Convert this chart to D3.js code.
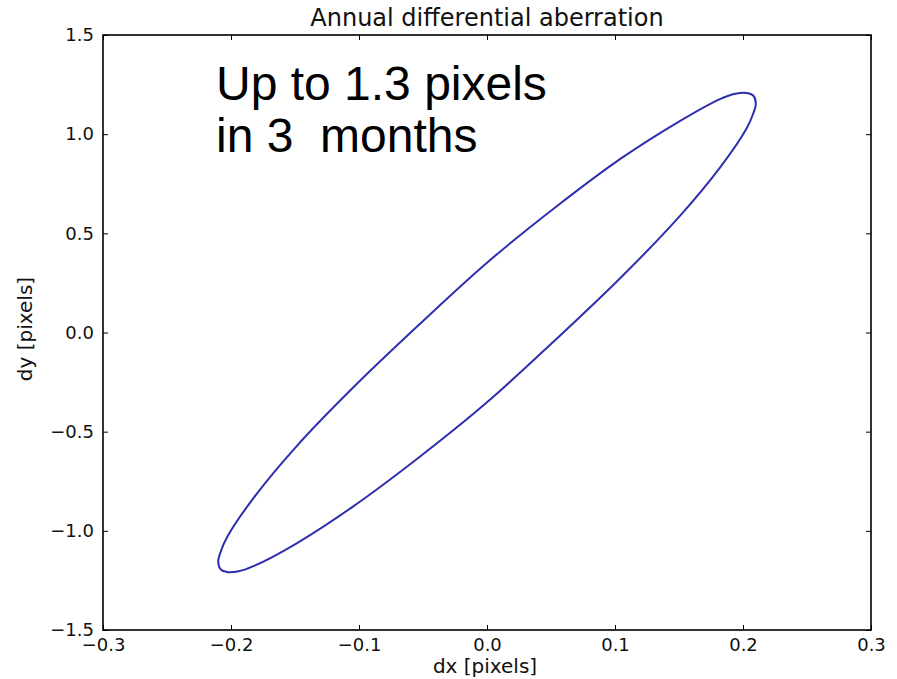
<!DOCTYPE html>
<html><head><meta charset="utf-8">
<script src="https://cdn.jsdelivr.net/npm/d3@7"></script>
<style>body{margin:0;background:#fff}svg{display:block}</style>
</head><body>
<svg id="c" width="897" height="679"></svg>
<script>
const title = "Annual differential aberration";
const xLabel = "dx [pixels]";
const yLabel = "dy [pixels]";
const annotation = ["Up to 1.3 pixels", "in 3  months"];
const xTicks = [-0.3, -0.2, -0.1, 0.0, 0.1, 0.2, 0.3];
const yTicks = [-1.5, -1.0, -0.5, 0.0, 0.5, 1.0, 1.5];
// Ellipse (dx, dy), going round the curve
const dx = [0.210, 0.208, 0.203, 0.194, 0.182, 0.149, 0.105, 0.054, 0.000, -0.054, -0.105, -0.149, -0.182, -0.203, -0.208, -0.210, -0.208, -0.203, -0.194, -0.182, -0.149, -0.105, -0.054, 0.000, 0.054, 0.105, 0.149, 0.182, 0.203, 0.208];
const dy = [1.155, 1.195, 1.208, 1.204, 1.177, 1.060, 0.879, 0.634, 0.352, 0.034, -0.280, -0.575, -0.831, -1.031, -1.104, -1.155, -1.195, -1.208, -1.204, -1.177, -1.064, -0.879, -0.634, -0.352, -0.034, 0.280, 0.575, 0.831, 1.031, 1.104];

const svg = d3.select("#c");
const L = 103, R = 871, T = 35, B = 630;
const x = d3.scaleLinear().domain([-0.3, 0.3]).range([L, R]);
const y = d3.scaleLinear().domain([-1.5, 1.5]).range([B, T]);
const font = "'DejaVu Sans', sans-serif";

const pts = dx.map((v, i) => [v, dy[i]]);
svg.append("path").datum(pts)
  .attr("fill", "none").attr("stroke", "#2e2eb0").attr("stroke-width", 2)
  .attr("d", d3.line().x(d => x(d[0])).y(d => y(d[1])).curve(d3.curveCatmullRomClosed.alpha(0.5)));

function fmt(v){ return v.toFixed(1).replace("-", "\u2212"); }

const xb = svg.append("g").attr("transform", `translate(0,${B})`)
  .call(d3.axisBottom(x).tickValues(xTicks).tickFormat(fmt).tickSizeInner(-5).tickSizeOuter(0).tickPadding(8));
const xt = svg.append("g").attr("transform", `translate(0,${T})`)
  .call(d3.axisTop(x).tickValues(xTicks).tickFormat("").tickSizeInner(-5).tickSizeOuter(0));
const yl = svg.append("g").attr("transform", `translate(${L},0)`)
  .call(d3.axisLeft(y).tickValues(yTicks).tickFormat(fmt).tickSizeInner(-5).tickSizeOuter(0).tickPadding(9));
const yr = svg.append("g").attr("transform", `translate(${R},0)`)
  .call(d3.axisRight(y).tickValues(yTicks).tickFormat("").tickSizeInner(-5).tickSizeOuter(0));
[xb, xt, yl, yr].forEach(a => {
  a.select(".domain").remove();
  a.selectAll("line").attr("stroke", "#000");
  a.selectAll("text").attr("font-family", font).attr("font-size", 18).attr("fill", "#111");
});
xb.selectAll("text").attr("dy", "0.71em");

svg.append("rect").attr("x", L).attr("y", T).attr("width", R - L).attr("height", B - T)
  .attr("fill", "none").attr("stroke", "#000").attr("stroke-width", 1.6);

svg.append("text").attr("x", (L + R) / 2).attr("y", 26).attr("text-anchor", "middle")
  .attr("font-family", font).attr("font-size", 24).attr("fill", "#111").text(title);
svg.append("text").attr("x", 485).attr("y", 673).attr("text-anchor", "middle")
  .attr("font-family", font).attr("font-size", 20).attr("fill", "#111").text(xLabel);
svg.append("text").attr("transform", `translate(32,329) rotate(-90)`).attr("text-anchor", "middle")
  .attr("font-family", font).attr("font-size", 20).attr("fill", "#111").text(yLabel);

annotation.forEach((s, i) => {
  svg.append("text").attr("x", 216).attr("y", 100 + i * 52)
    .style("white-space", "pre")
    .attr("font-family", "'Liberation Sans', Arial, sans-serif").attr("font-size", 48).attr("fill", "#000").text(s);
});
</script>
</body></html>
